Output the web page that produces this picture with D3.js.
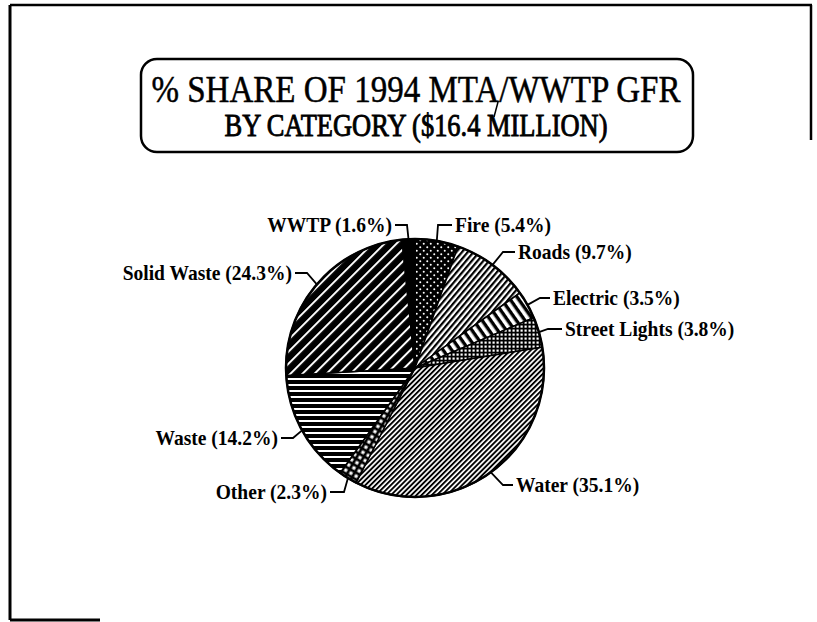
<!DOCTYPE html>
<html lang="en">
<head>
<meta charset="UTF-8">
<title>% Share of 1994 MTA/WWTP GFR</title>
<script src="https://d3js.org/d3.v7.min.js"></script>
<style>
	body { margin: 0; background: #fff; }
	svg { display: block; }
	.lbl { font-family: "Liberation Serif", "Times New Roman", serif; font-weight: bold; font-size: 21px; }
	.ttl { font-family: "Liberation Serif", "Times New Roman", serif; }
</style>
</head>
<body>
<svg id="chart"></svg>
<script>
	// data, clockwise from 12 o'clock
	const categories = ["Fire", "Roads", "Electric", "Street Lights", "Water", "Other", "Waste", "Solid Waste", "WWTP"];
	const shares = [5.4, 9.7, 3.5, 3.8, 35.1, 2.3, 14.2, 24.3, 1.6];
	const titleLines = ["% SHARE OF 1994 MTA/WWTP GFR", "BY CATEGORY ($16.4 MILLION)"];

	const width = 817, height = 622;
	const cx = 415, cy = 368, r = 129;

	// fill pattern per slice
	const fills = {
		"Fire": "url(#p-dots)",
		"Roads": "url(#p-roads)",
		"Electric": "url(#p-elec)",
		"Street Lights": "url(#p-grid)",
		"Water": "url(#p-water)",
		"Other": "url(#p-other)",
		"Waste": "url(#p-horiz)",
		"Solid Waste": "url(#p-solid)",
		"WWTP": "#000"
	};

	// where each label's leader bends and where its text sits
	const labelLayout = {
		"Fire":          { ex: 438, ey: 225, tx: 455, anchor: "start" },
		"Roads":         { ex: 503, ey: 252, tx: 518, anchor: "start" },
		"Electric":      { ex: 540, ey: 298, tx: 553, anchor: "start" },
		"Street Lights": { ex: 548, ey: 329, tx: 565, anchor: "start" },
		"Water":         { ex: 503, ey: 485, tx: 516, anchor: "start" },
		"Other":         { ex: 344, ey: 492, tx: 327, anchor: "end" },
		"Waste":         { ex: 293, ey: 438, tx: 278, anchor: "end" },
		"Solid Waste":   { ex: 307, ey: 273, tx: 292, anchor: "end" },
		"WWTP":          { ex: 407, ey: 225, tx: 392, anchor: "end" }
	};

	const svg = d3.select("#chart")
		.attr("width", width)
		.attr("height", height);

	// ---- patterns
	const defs = svg.append("defs");

	function linePattern(id, period, ink, angle, bg, fg) {
		const p = defs.append("pattern")
			.attr("id", id)
			.attr("patternUnits", "userSpaceOnUse")
			.attr("width", period).attr("height", period)
			.attr("patternTransform", "rotate(" + angle + ")");
		p.append("rect").attr("width", period).attr("height", period).attr("fill", bg);
		p.append("rect").attr("width", period).attr("height", ink).attr("fill", fg);
	}
	linePattern("p-solid", 8.5, 2.0, -45, "#000", "#fff");
	linePattern("p-water", 3.6, 1.9, -45, "#fff", "#000");
	linePattern("p-roads", 4.4, 2.2, -50, "#fff", "#000");
	linePattern("p-elec", 7, 3.4, 55, "#fff", "#000");
	linePattern("p-horiz", 6, 4, 0, "#fff", "#000");

	const dots = defs.append("pattern")
		.attr("id", "p-dots").attr("patternUnits", "userSpaceOnUse")
		.attr("width", 7).attr("height", 7);
	dots.append("rect").attr("width", 7).attr("height", 7).attr("fill", "#000");
	dots.append("circle").attr("cx", 1.75).attr("cy", 1.75).attr("r", 1.0).attr("fill", "#fff");
	dots.append("circle").attr("cx", 5.25).attr("cy", 5.25).attr("r", 1.0).attr("fill", "#fff");

	const grid = defs.append("pattern")
		.attr("id", "p-grid").attr("patternUnits", "userSpaceOnUse")
		.attr("width", 4).attr("height", 4);
	grid.append("rect").attr("width", 4).attr("height", 4).attr("fill", "#000");
	grid.append("rect").attr("x", 1.5).attr("y", 1.5).attr("width", 2.2).attr("height", 2.2).attr("fill", "#fff");

	const other = defs.append("pattern")
		.attr("id", "p-other").attr("patternUnits", "userSpaceOnUse")
		.attr("width", 6).attr("height", 6)
		.attr("patternTransform", "rotate(30)");
	other.append("rect").attr("width", 6).attr("height", 6).attr("fill", "#000");
	other.append("rect").attr("x", 1.5).attr("y", 1.5).attr("width", 3.2).attr("height", 3.2).attr("fill", "#fff");

	// ---- page frame (scanned border)
	const frame = svg.append("g").attr("stroke", "#000").attr("fill", "none");
	frame.append("line").attr("x1", 10).attr("y1", 5).attr("x2", 812).attr("y2", 5).attr("stroke-width", 2.5);
	frame.append("line").attr("x1", 10).attr("y1", 5).attr("x2", 10).attr("y2", 620).attr("stroke-width", 3);
	frame.append("line").attr("x1", 811).attr("y1", 5).attr("x2", 811).attr("y2", 140).attr("stroke-width", 2.5);
	frame.append("line").attr("x1", 10).attr("y1", 620).attr("x2", 100).attr("y2", 620).attr("stroke-width", 3);

	// ---- title box
	svg.append("rect")
		.attr("x", 141).attr("y", 59)
		.attr("width", 552).attr("height", 93)
		.attr("rx", 16).attr("ry", 16)
		.attr("fill", "none").attr("stroke", "#000").attr("stroke-width", 2.5);

	svg.append("text").attr("class", "ttl")
		.attr("x", 416).attr("y", 102)
		.attr("text-anchor", "middle")
		.attr("font-size", 38)
		.attr("stroke", "#000").attr("stroke-width", 0.5)
		.attr("textLength", 529).attr("lengthAdjust", "spacingAndGlyphs")
		.text(titleLines[0]);
	svg.append("text").attr("class", "ttl")
		.attr("x", 416).attr("y", 136)
		.attr("text-anchor", "middle")
		.attr("font-size", 31)
		.attr("stroke", "#000").attr("stroke-width", 0.9)
		.attr("textLength", 383).attr("lengthAdjust", "spacingAndGlyphs")
		.text(titleLines[1]);
	// the long stroke of the slash that runs down into line two
	svg.append("line")
		.attr("x1", 498).attr("y1", 102).attr("x2", 494).attr("y2", 117)
		.attr("stroke", "#000").attr("stroke-width", 1.5);

	// ---- pie
	const pie = d3.pie().sort(null).value(d => d.value);
	const arcs = pie(categories.map((c, i) => ({ name: c, value: shares[i] })));
	const arc = d3.arc().innerRadius(0).outerRadius(r);
	const rim = d3.arc().innerRadius(r).outerRadius(r);

	const g = svg.append("g").attr("transform", `translate(${cx},${cy})`);
	g.selectAll("path.slice")
		.data(arcs)
		.join("path")
		.attr("class", "slice")
		.attr("d", arc)
		.attr("fill", d => fills[d.data.name])
		.attr("stroke", "#000")
		.attr("stroke-width", 1.5)
		.attr("stroke-linejoin", "round");
	g.append("circle").attr("r", r).attr("fill", "none").attr("stroke", "#000").attr("stroke-width", 2.5);

	// ---- labels with leader lines
	const lab = svg.append("g");
	lab.selectAll("polyline")
		.data(arcs)
		.join("polyline")
		.attr("fill", "none").attr("stroke", "#000").attr("stroke-width", 1.8)
		.attr("points", d => {
			const L = labelLayout[d.data.name];
			const p = rim.centroid(d);
			const end = L.anchor === "start" ? L.tx - 3 : L.tx + 3;
			return [[cx + p[0], cy + p[1]], [L.ex, L.ey], [end, L.ey]].map(q => q.join(",")).join(" ");
		});
	// narrow, tall lettering like the plotter font
	lab.selectAll("text")
		.data(arcs)
		.join("text")
		.attr("class", "lbl")
		.attr("transform", d => {
			const L = labelLayout[d.data.name];
			return `translate(${L.tx},${L.ey}) scale(0.93,1)`;
		})
		.attr("dy", "0.35em")
		.attr("text-anchor", d => labelLayout[d.data.name].anchor)
		.text(d => `${d.data.name} (${d.data.value.toFixed(1)}%)`);
</script>
</body>
</html>
